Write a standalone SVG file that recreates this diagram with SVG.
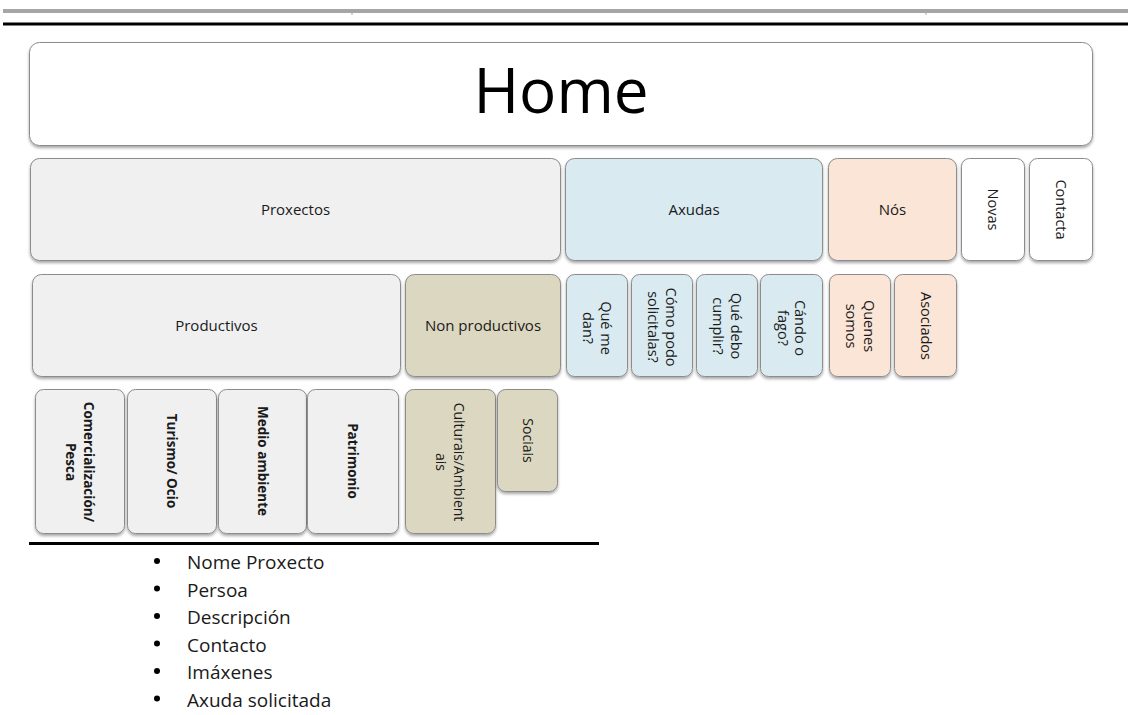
<svg xmlns="http://www.w3.org/2000/svg" width="1128" height="715" viewBox="0 0 1128 715">
<defs>
<filter id="sh" x="-10%" y="-10%" width="120%" height="130%">
<feDropShadow dx="0" dy="2" stdDeviation="1.4" flood-color="#000" flood-opacity="0.35"/>
</filter>
</defs>
<style>
.b{stroke:#8c8c8c;stroke-width:1;filter:url(#sh)}
.w{fill:#ffffff}.g{fill:#f0f0f0}.bl{fill:#d9eaf1}.pe{fill:#fbe5d6}.tn{fill:#dcd7c0}
text{font-family:"Open Sans","Liberation Sans",sans-serif;fill:#1a1a1a;text-anchor:middle}
.t{font-size:15px}
.r{font-size:14.5px}
.bd{font-size:13.5px;font-weight:bold}
.li{font-size:19px;text-anchor:start}
</style>
<rect x="3" y="9" width="1125" height="4" fill="#a6a6a6"/>
<line x1="352" y1="13" x2="352" y2="15" stroke="#a6a6a6" stroke-width="1"/>
<line x1="926" y1="13" x2="926" y2="15" stroke="#a6a6a6" stroke-width="1"/>
<rect x="3" y="22.5" width="1125" height="3" fill="#000"/>

<g id="home"><rect class="b w" x="29.5" y="42.5" width="1063" height="103" rx="10"/><text x="561" y="113" style="font-size:62px;fill:#000">Home</text></g>

<g id="proxectos"><rect class="b g" x="30.5" y="158.5" width="530" height="102" rx="9"/><text class="t" x="295.5" y="215">Proxectos</text></g>
<g id="axudas"><rect class="b bl" x="565.5" y="158.5" width="257" height="102" rx="9"/><text class="t" x="694" y="215">Axudas</text></g>
<g id="nos"><rect class="b pe" x="828.5" y="158.5" width="128" height="102" rx="9"/><text class="t" x="892.5" y="215">Nós</text></g>
<g id="novas"><rect class="b w" x="961.5" y="158.5" width="63" height="102" rx="8"/><text class="r" transform="translate(993,209.5) rotate(90)" y="5">Novas</text></g>
<g id="contacta"><rect class="b w" x="1029.5" y="158.5" width="63" height="102" rx="8"/><text class="r" transform="translate(1061,209.5) rotate(90)" y="5">Contacta</text></g>

<g id="productivos"><rect class="b g" x="32.5" y="274.5" width="368" height="102" rx="9"/><text class="t" x="216.5" y="331">Productivos</text></g>
<g id="nonproductivos"><rect class="b tn" x="405.5" y="274.5" width="155" height="102" rx="9"/><text class="t" x="483" y="331">Non productivos</text></g>
<g id="quemedan"><rect class="b bl" x="566.5" y="274.5" width="61" height="102" rx="8"/><text class="r" transform="translate(597,328) rotate(90)"><tspan x="0" y="-3.5">Qué me</tspan><tspan x="0" y="14">dan?</tspan></text></g>
<g id="comopodo"><rect class="b bl" x="631.5" y="274.5" width="61" height="102" rx="8"/><text class="r" transform="translate(662,327) rotate(90)"><tspan x="0" y="-3.5">Cómo podo</tspan><tspan x="0" y="14">solicitalas?</tspan></text></g>
<g id="quedebo"><rect class="b bl" x="696.5" y="274.5" width="61" height="102" rx="8"/><text class="r" transform="translate(727,326) rotate(90)"><tspan x="0" y="-3.5">Qué debo</tspan><tspan x="0" y="14">cumplir?</tspan></text></g>
<g id="cando"><rect class="b bl" x="760.5" y="274.5" width="62" height="102" rx="8"/><text class="r" transform="translate(791.5,328) rotate(90)"><tspan x="0" y="-3.5">Cándo o</tspan><tspan x="0" y="14">fago?</tspan></text></g>
<g id="quenes"><rect class="b pe" x="829.5" y="274.5" width="61" height="102" rx="8"/><text class="r" transform="translate(860,326) rotate(90)"><tspan x="0" y="-3.5">Quenes</tspan><tspan x="0" y="14">somos</tspan></text></g>
<g id="asociados"><rect class="b pe" x="894.5" y="274.5" width="62" height="102" rx="8"/><text class="r" transform="translate(925.5,326) rotate(90)" y="5">Asociados</text></g>

<g id="comercializacion"><rect class="b g" x="35.5" y="389.5" width="89" height="144" rx="8"/><text class="bd" transform="translate(80,462) rotate(90)"><tspan x="0" y="-4">Comercialización/</tspan><tspan x="0" y="14">Pesca</tspan></text></g>
<g id="turismo"><rect class="b g" x="127.5" y="389.5" width="89" height="144" rx="8"/><text class="bd" transform="translate(172,461) rotate(90)" y="5">Turismo/ Ocio</text></g>
<g id="medio"><rect class="b g" x="218.5" y="389.5" width="88" height="144" rx="8"/><text class="bd" transform="translate(262.5,461) rotate(90)" y="5">Medio ambiente</text></g>
<g id="patrimonio"><rect class="b g" x="307.5" y="389.5" width="91" height="144" rx="8"/><text class="bd" transform="translate(353,461) rotate(90)" y="5">Patrimonio</text></g>
<g id="culturais"><rect class="b tn" x="405.5" y="389.5" width="90" height="144" rx="8"/><text class="r" transform="translate(450,462) rotate(90)" style="font-size:14px"><tspan x="0" y="-4">Culturais/Ambient</tspan><tspan x="0" y="14">ais</tspan></text></g>
<g id="sociais"><rect class="b tn" x="497.5" y="389.5" width="60" height="102" rx="8"/><text class="r" transform="translate(527.5,440.5) rotate(90)" y="5" style="font-size:14px">Sociais</text></g>

<rect x="29" y="542" width="570" height="3" fill="#000"/>

<g id="lista">
<circle cx="157" cy="561" r="3"/><text class="li" x="187" y="569">Nome Proxecto</text>
<circle cx="157" cy="588.5" r="3"/><text class="li" x="187" y="596.5">Persoa</text>
<circle cx="157" cy="616" r="3"/><text class="li" x="187" y="624">Descripción</text>
<circle cx="157" cy="643.5" r="3"/><text class="li" x="187" y="651.5">Contacto</text>
<circle cx="157" cy="671" r="3"/><text class="li" x="187" y="679">Imáxenes</text>
<circle cx="157" cy="698.5" r="3"/><text class="li" x="187" y="706.5">Axuda solicitada</text>
</g>
</svg>
